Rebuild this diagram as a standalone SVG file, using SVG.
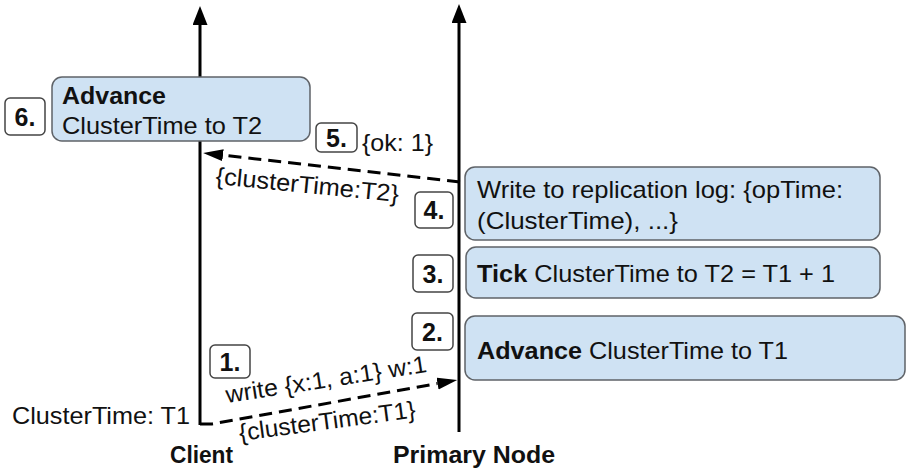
<svg xmlns="http://www.w3.org/2000/svg" width="912" height="474" viewBox="0 0 912 474">
  <defs>
    <style>
      text { font-family: "Liberation Sans", Arial, sans-serif; font-size: 24px; fill: #111; }
      .b { font-weight: bold; }
      .n { font-weight: bold; font-size: 25px; }
      .box { fill: #cfe2f3; stroke: #5f6368; stroke-width: 1.5; }
      .lbl { fill: #ffffff; stroke: #444; stroke-width: 1.5; }
      .axis { stroke: #000; stroke-width: 3; fill: none; }
      .dash { stroke: #000; stroke-width: 3; fill: none; stroke-dasharray: 13 7; }
    </style>
    <marker id="axisHead" markerUnits="userSpaceOnUse" markerWidth="20" markerHeight="16" refX="0" refY="7.5" orient="auto">
      <path d="M0,0 L19,7.5 L0,15 z" fill="#000"/>
    </marker>
    <marker id="dashHead" markerUnits="userSpaceOnUse" markerWidth="21" markerHeight="13" refX="0" refY="6" orient="auto">
      <path d="M0,0 L20,6 L0,12 z" fill="#000"/>
    </marker>
  </defs>

  <g id="connectors">
    <line class="axis" x1="200" y1="425" x2="200" y2="25" marker-end="url(#axisHead)"/>
    <line class="axis" x1="459" y1="432" x2="459" y2="23" marker-end="url(#axisHead)"/>
    <path class="dash" d="M200,424 L212,424 L437.5,383.5" marker-end="url(#dashHead)"/>
    <path class="dash" d="M460,182 L223,155.2" marker-end="url(#dashHead)"/>
  </g>

  <g id="client-label">
    <text class="b" x="170" y="463" textLength="63" lengthAdjust="spacingAndGlyphs">Client</text>
  </g>
  <g id="primary-label">
    <text class="b" x="393" y="463" textLength="162" lengthAdjust="spacingAndGlyphs">Primary Node</text>
  </g>
  <g id="client-time">
    <text x="12" y="424" textLength="178" lengthAdjust="spacingAndGlyphs">ClusterTime: T1</text>
  </g>

  <g id="step1">
    <rect class="lbl" x="210" y="345" width="40" height="33" rx="5"/>
    <text class="n" x="230" y="371" text-anchor="middle">1.</text>
    <text transform="translate(227,403) rotate(-8.8)" textLength="203" lengthAdjust="spacingAndGlyphs">write {x:1, a:1} w:1</text>
    <text transform="translate(240,441) rotate(-7.6)" textLength="178" lengthAdjust="spacingAndGlyphs">{clusterTime:T1}</text>
  </g>

  <g id="step2">
    <rect class="lbl" x="412" y="313" width="41" height="37" rx="5"/>
    <text class="n" x="432.5" y="341" text-anchor="middle">2.</text>
    <rect class="box" x="465" y="316" width="440" height="64" rx="10"/>
    <text x="477" y="359" textLength="311" lengthAdjust="spacingAndGlyphs"><tspan class="b">Advance</tspan> ClusterTime to T1</text>
  </g>

  <g id="step3">
    <rect class="lbl" x="413" y="255" width="40" height="37" rx="5"/>
    <text class="n" x="433" y="283" text-anchor="middle">3.</text>
    <rect class="box" x="466" y="247" width="414" height="51" rx="10"/>
    <text x="477" y="282" textLength="358" lengthAdjust="spacingAndGlyphs"><tspan class="b">Tick</tspan> ClusterTime to T2 = T1 + 1</text>
  </g>

  <g id="step4">
    <rect class="lbl" x="415" y="192" width="38" height="36" rx="5"/>
    <text class="n" x="434" y="219" text-anchor="middle">4.</text>
    <rect class="box" x="465" y="167" width="415" height="73" rx="10"/>
    <text x="477" y="198" textLength="366" lengthAdjust="spacingAndGlyphs">Write to replication log: {opTime:</text>
    <text x="477" y="229" textLength="201" lengthAdjust="spacingAndGlyphs">(ClusterTime), ...}</text>
  </g>

  <g id="step5">
    <rect class="lbl" x="316" y="123" width="41" height="29" rx="5"/>
    <text class="n" x="336.5" y="147" text-anchor="middle">5.</text>
    <text x="362" y="151" textLength="71" lengthAdjust="spacingAndGlyphs">{ok: 1}</text>
    <text transform="translate(215,184) rotate(5.6)" textLength="184" lengthAdjust="spacingAndGlyphs">{clusterTime:T2}</text>
  </g>

  <g id="step6">
    <rect class="lbl" x="5" y="98" width="40" height="37" rx="5"/>
    <text class="n" x="25" y="126" text-anchor="middle">6.</text>
    <rect class="box" x="52" y="77" width="258" height="64" rx="10"/>
    <text class="b" x="62" y="104" textLength="104" lengthAdjust="spacingAndGlyphs">Advance</text>
    <text x="62" y="134" textLength="200" lengthAdjust="spacingAndGlyphs">ClusterTime to T2</text>
  </g>
</svg>
